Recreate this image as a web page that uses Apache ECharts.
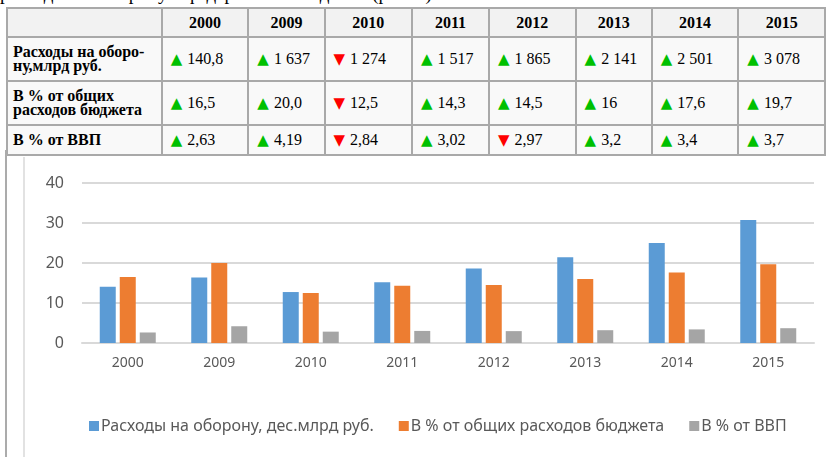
<!DOCTYPE html>
<html>
<head>
<meta charset="utf-8">
<script src="https://cdn.jsdelivr.net/npm/echarts@6/dist/echarts.min.js"></script>
<style>
  html, body { margin: 0; padding: 0; background: #fff; overflow: hidden; }
  body { width: 826px; height: 457px; position: relative; }
  #caption { position: absolute; left: 0; top: -17px; font: 19px "Liberation Serif", serif; color: #000; white-space: nowrap; }
  #tbl { position: absolute; left: 6px; top: 7px; border-collapse: collapse; table-layout: fixed;
         font-family: "Liberation Serif", serif; font-size: 16px; color: #000; }
  #tbl td, #tbl th { border: 2px solid #a9a9a9; padding: 0 8px; background: #f9f9f9; white-space: nowrap; }
  #tbl th { background: #f2f2f2; font-weight: bold; text-align: center; height: 27px; font-size: 16px; }
  #tbl td.lbl { font-weight: bold; line-height: 14px; padding-left: 5px; font-size: 16px; }
  .up { color: #00c000; font-family: "DejaVu Sans", sans-serif; font-size: 15px; margin-right: 5px; }
  .dn { color: #ff0000; font-family: "DejaVu Sans", sans-serif; font-size: 15px; margin-right: 5px; }
  #lineA { position: absolute; left: 5px; top: 150px; width: 2px; height: 310px; background: #ababab; }
  #lineB { position: absolute; left: 23px; top: 157px; width: 2px; height: 300px; background: #e2e2e2; }
  #chart { position: absolute; left: 0; top: 155px; width: 826px; height: 302px; }
</style>
</head>
<body>
<div id="caption">расходов на оборону в федеральном бюджете (рис. 1).</div>
<table id="tbl"></table>
<div id="lineA"></div>
<div id="lineB"></div>
<div id="chart"></div>
<script>
var years = ['2000', '2009', '2010', '2011', '2012', '2013', '2014', '2015'];
var rowLabels = ['Расходы на оборо-<br>ну,млрд руб.', 'В % от общих<br>расходов бюджета', 'В % от ВВП'];
var defenseText = ['140,8', '1 637', '1 274', '1 517', '1 865', '2 141', '2 501', '3 078'];
var budgetText = ['16,5', '20,0', '12,5', '14,3', '14,5', '16', '17,6', '19,7'];
var gdpText = ['2,63', '4,19', '2,84', '3,02', '2,97', '3,2', '3,4', '3,7'];
var defenseDir = [1, 1, -1, 1, 1, 1, 1, 1];
var budgetDir = [1, 1, -1, 1, 1, 1, 1, 1];
var gdpDir = [1, 1, -1, 1, -1, 1, 1, 1];

var seriesNames = ['Расходы на оборону, дес.млрд руб.', 'В % от общих расходов бюджета', 'В % от ВВП'];
var defense = [14.08, 16.37, 12.74, 15.17, 18.65, 21.41, 25.01, 30.78];
var budget = [16.5, 20.0, 12.5, 14.3, 14.5, 16, 17.6, 19.7];
var gdp = [2.63, 4.19, 2.84, 3.02, 2.97, 3.2, 3.4, 3.7];

// таблица
var colW = [156, 89, 77, 90, 78, 89, 77, 89, 89];
var rowH = [44, 44, 30];
var html = '<colgroup>';
colW.forEach(function (w) { html += '<col style="width:' + w + 'px">'; });
html += '</colgroup><tr><th></th>';
years.forEach(function (y) { html += '<th>' + y + '</th>'; });
html += '</tr>';
[[defenseText, defenseDir], [budgetText, budgetDir], [gdpText, gdpDir]].forEach(function (r, i) {
    html += '<tr style="height:' + rowH[i] + 'px"><td class="lbl">' + rowLabels[i] + '</td>';
    r[0].forEach(function (v, j) {
        var up = r[1][j] > 0;
        html += '<td><span class="' + (up ? 'up' : 'dn') + '">' + (up ? '▲' : '▼') + '</span>' + v + '</td>';
    });
    html += '</tr>';
});
document.getElementById('tbl').innerHTML = html;

// диаграмма
var myChart = echarts.init(document.getElementById('chart'));
var font = 'Noto Sans, sans-serif';
var option = {
    animation: false,
    color: ['#5b9bd5', '#ed7d31', '#a5a5a5'],
    grid: { left: 82, top: 28, width: 732, height: 160 },
    legend: {
        data: seriesNames,
        top: 258,
        left: 84,
        icon: 'rect',
        itemWidth: 10,
        itemHeight: 10,
        itemGap: 25,
        textStyle: { color: '#595959', fontSize: 16, fontFamily: font, padding: [0, 0, 0, -3] }
    },
    xAxis: {
        type: 'category',
        data: years,
        axisLine: { lineStyle: { color: '#d9d9d9', width: 2 } },
        axisTick: { show: false },
        axisLabel: { color: '#595959', fontSize: 14, fontFamily: font, margin: 13 }
    },
    yAxis: {
        type: 'value',
        min: 0,
        max: 40,
        interval: 10,
        axisLine: { show: false },
        axisTick: { show: false },
        splitLine: { lineStyle: { color: '#d9d9d9', width: 2 } },
        axisLabel: { color: '#595959', fontSize: 16, fontFamily: font, margin: 18 }
    },
    series: [
        { name: seriesNames[0], type: 'bar', data: defense, barWidth: 16, barGap: '25%' },
        { name: seriesNames[1], type: 'bar', data: budget, barWidth: 16, barGap: '25%' },
        { name: seriesNames[2], type: 'bar', data: gdp, barWidth: 16, barGap: '25%' }
    ]
};
myChart.setOption(option);
</script>
</body>
</html>
